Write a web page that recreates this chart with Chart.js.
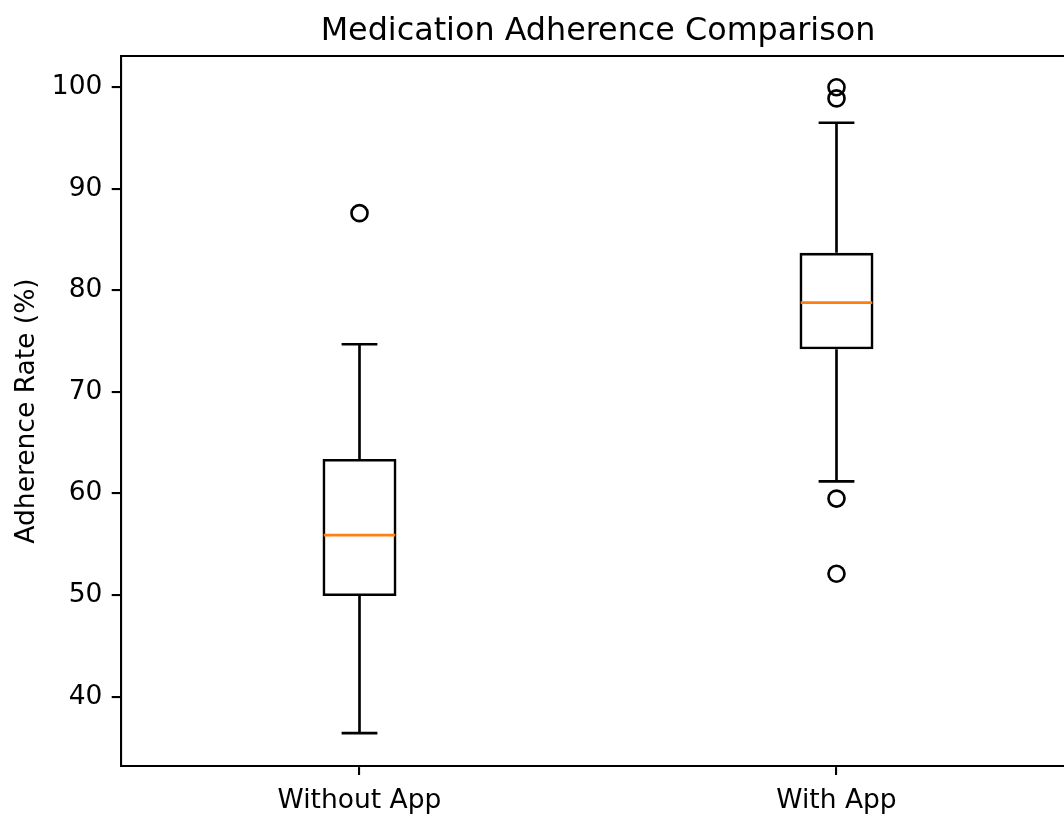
<!DOCTYPE html>
<html>
<head>
<meta charset="utf-8">
<title>Medication Adherence Comparison</title>
<script src="https://cdn.jsdelivr.net/npm/chart.js@4.4.0/dist/chart.umd.min.js"></script>
<style>
  html, body { margin: 0; padding: 0; background: #fff; overflow: hidden; }
  /* the axes run a little past the right edge of the window, as in the original */
  #wrap { position: relative; width: 1075px; height: 814px; }
</style>
</head>
<body>
<div id="wrap"><canvas id="mycanvas"></canvas></div>
<script>
// values
var categories = ['Without App', 'With App'];
var positions = [1, 2];
var whiskerLow = [36.4, 61.2];
var q1 = [49.9, 74.2];
var medians = [55.9, 78.8];
var q3 = [63.4, 83.7];
var whiskerHigh = [74.7, 96.5];
var outliersWithoutApp = [87.6];
var outliersWithApp = [100.0, 98.9, 59.5, 52.1];
var yTicks = [40, 50, 60, 70, 80, 90, 100];
var yMin = 33.2;
var yMax = 103.05;
var xMin = 0.5;
var xMax = 2.5;

Chart.defaults.font.family = "'DejaVu Sans', sans-serif";
Chart.defaults.color = '#000';

var boxData = [];
var upperWhisker = [];
var lowerWhisker = [];
var capPoints = [];
var medianPoints = [];
for (var i = 0; i < categories.length; i++) {
  boxData.push({x: positions[i], y: [q1[i], q3[i]]});
  upperWhisker.push({x: positions[i], y: [q3[i], whiskerHigh[i]]});
  lowerWhisker.push({x: positions[i], y: [whiskerLow[i], q1[i]]});
  capPoints.push({x: positions[i], y: whiskerLow[i]});
  capPoints.push({x: positions[i], y: whiskerHigh[i]});
  medianPoints.push({x: positions[i], y: medians[i]});
}
var flierPoints = [];
outliersWithoutApp.forEach(function(v){ flierPoints.push({x: positions[0], y: v}); });
outliersWithApp.forEach(function(v){ flierPoints.push({x: positions[1], y: v}); });

var tickFont = {size: 26.5};
var lw = 2.65;

// keep the label half-widths from squeezing the plot area
function noPadding(s) {
  s.paddingLeft = 0;
  s.paddingRight = 0;
  s.paddingTop = 0;
  s.paddingBottom = 0;
}

var ctx = document.getElementById('mycanvas');
var boxChart = new Chart(ctx, {
  type: 'bar',
  data: {
    datasets: [
      {
        label: 'median',
        type: 'line',
        data: medianPoints,
        showLine: false,
        pointStyle: 'line',
        pointRadius: 35.8,
        pointBorderWidth: lw,
        borderColor: '#ff7f0e',
        backgroundColor: '#ff7f0e'
      },
      {
        label: 'outliers',
        type: 'line',
        data: flierPoints,
        showLine: false,
        pointStyle: 'circle',
        pointRadius: 8,
        pointBorderWidth: lw,
        borderColor: '#000',
        pointBackgroundColor: 'rgba(0,0,0,0)'
      },
      {
        label: 'caps',
        type: 'line',
        data: capPoints,
        showLine: false,
        pointStyle: 'line',
        pointRadius: 17.9,
        pointBorderWidth: lw,
        borderColor: '#000'
      },
      {
        label: 'box',
        data: boxData,
        grouped: false,
        barPercentage: 0.155,
        categoryPercentage: 1,
        backgroundColor: 'rgba(0,0,0,0)',
        borderColor: '#000',
        borderWidth: lw,
        borderSkipped: false,
        inflateAmount: 0
      },
      {
        label: 'upper whisker',
        data: upperWhisker,
        grouped: false,
        barThickness: lw,
        backgroundColor: '#000',
        borderWidth: 0,
        inflateAmount: 0
      },
      {
        label: 'lower whisker',
        data: lowerWhisker,
        grouped: false,
        barThickness: lw,
        backgroundColor: '#000',
        borderWidth: 0,
        inflateAmount: 0
      }
    ]
  },
  options: {
    responsive: true,
    maintainAspectRatio: false,
    animation: false,
    events: [],
    layout: {autoPadding: false, padding: 0},
    plugins: {
      legend: {display: false},
      tooltip: {enabled: false},
      title: {
        display: true,
        text: 'Medication Adherence Comparison',
        fullSize: false,
        color: '#000',
        font: {size: 31.8, weight: 'normal'},
        padding: {top: 12.7, bottom: 5.4}
      }
    },
    scales: {
      x: {
        type: 'linear',
        position: 'bottom',
        min: xMin,
        max: xMax,
        offset: false,
        afterBuildTicks: function(s) {
          s.ticks = positions.map(function(v){ return {value: v}; });
        },
        grid: {display: true, offset: false, drawOnChartArea: false, drawTicks: true, tickLength: 9.3, color: '#000', lineWidth: 2.1},
        border: {display: true, color: '#000', width: 2.1},
        ticks: {
          color: '#000', font: tickFont, padding: 10, maxRotation: 0, autoSkip: false,
          callback: function(value) { return categories[positions.indexOf(value)]; }
        },
        afterFit: function(s) { s.height = 814 - 765.7; noPadding(s); }
      },
      xTop: {
        type: 'linear',
        position: 'top',
        min: xMin,
        max: xMax,
        grid: {display: true, offset: false, drawOnChartArea: false, drawTicks: false},
        border: {display: true, color: '#000', width: 2.1},
        ticks: {display: false},
        afterFit: function(s) { s.height = 0; noPadding(s); }
      },
      y: {
        type: 'linear',
        min: yMin,
        max: yMax,
        afterBuildTicks: function(s) {
          s.ticks = yTicks.map(function(v){ return {value: v}; });
        },
        grid: {display: true, drawOnChartArea: false, drawTicks: true, tickLength: 9.3, color: '#000', lineWidth: 2.1},
        border: {display: true, color: '#000', width: 2.1},
        ticks: {color: '#000', font: tickFont, padding: 9.3},
        title: {
          display: true,
          text: 'Adherence Rate (%)',
          color: '#000',
          font: {size: 26.5},
          padding: {top: 10.8, bottom: 0}
        },
        afterFit: function(s) { s.width = 121; noPadding(s); }
      }
    }
  }
});
</script>
</body>
</html>
